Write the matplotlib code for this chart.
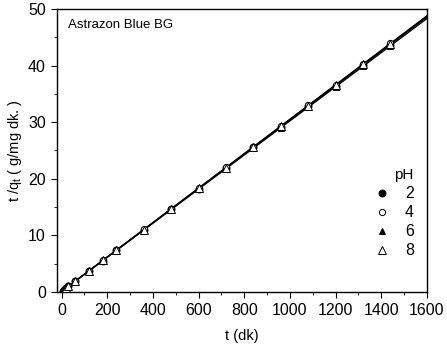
import numpy as np
import matplotlib
matplotlib.use("Agg")
import matplotlib.pyplot as plt
from matplotlib.ticker import MultipleLocator

plt.rcParams['font.family'] = ['Liberation Sans', 'DejaVu Sans']

# contact time (dk)
t = [5, 10, 15, 20, 30, 60, 120, 180, 240, 360, 480, 600, 720, 840, 960, 1080, 1200, 1320, 1440]

# t/qt (g/mg dk.) for each pH
ph_labels = ["2", "4", "6", "8"]
tq_ph2 = [0.20, 0.37, 0.53, 0.69, 1.00, 1.90, 3.72, 5.54, 7.35, 10.98, 14.62, 18.25, 21.89, 25.52, 29.16, 32.80, 36.44, 40.07, 43.70]
tq_ph4 = [0.21, 0.38, 0.54, 0.70, 1.01, 1.92, 3.75, 5.58, 7.40, 11.05, 14.70, 18.35, 22.00, 25.65, 29.30, 32.95, 36.60, 40.25, 43.90]
tq_ph6 = [0.19, 0.36, 0.52, 0.68, 0.99, 1.89, 3.70, 5.50, 7.31, 10.92, 14.54, 18.15, 21.77, 25.38, 29.00, 32.61, 36.22, 39.84, 43.45]
tq_ph8 = [0.20, 0.37, 0.53, 0.69, 1.00, 1.91, 3.73, 5.56, 7.38, 11.02, 14.67, 18.31, 21.96, 25.60, 29.25, 32.89, 36.54, 40.18, 43.83]

fig = plt.figure(figsize=(4.47, 3.56), dpi=100)
ax = fig.add_axes([0.1275, 0.18, 0.8275, 0.795])

series = [tq_ph2, tq_ph4, tq_ph6, tq_ph8]
styles = [dict(marker='o', mfc='black'), dict(marker='o', mfc='white'),
          dict(marker='^', mfc='black'), dict(marker='^', mfc='white')]
sizes = [5, 4.5, 5, 5.5]

tx = np.array(t, dtype=float)
xfit = np.linspace(0, 1600, 50)
handles = []
for y in series:
    p = np.polyfit(tx, y, 1)
    ax.plot(xfit, np.polyval(p, xfit), color='black', lw=0.9, zorder=2)
for y, st, ms, lab in zip(series, styles, sizes, ph_labels):
    h, = ax.plot(t, y, linestyle='none', color='black', mec='black', mew=0.7,
                 ms=ms, label=lab, zorder=3, **st)
    handles.append(h)

ax.set_xlim(-20, 1600)
ax.set_ylim(0, 50)
ax.xaxis.set_major_locator(MultipleLocator(200))
ax.xaxis.set_minor_locator(MultipleLocator(100))
ax.yaxis.set_major_locator(MultipleLocator(10))
ax.yaxis.set_minor_locator(MultipleLocator(5))
ax.tick_params(which='both', direction='out', top=False, right=False, labelsize=11.5)
ax.tick_params(which='major', length=4, pad=4)
ax.tick_params(which='minor', length=2.5)
for s in ax.spines.values():
    s.set_linewidth(1.0)

ax.set_xlabel("t (dk)", fontsize=10.5, labelpad=8)
ax.set_ylabel("t /q$_\\mathregular{t}$ ( g/mg dk. )", fontsize=10.5, labelpad=3)
ax.text(0.03, 0.965, "Astrazon Blue BG", transform=ax.transAxes, fontsize=9.5, va='top', ha='left')

leg = ax.legend(handles=handles, title="pH", loc='lower right', bbox_to_anchor=(0.995, 0.08),
                frameon=False, fontsize=11.5, title_fontsize=11, handletextpad=0.9,
                labelspacing=0.25, handlelength=1.0, alignment='right', borderpad=0.2)

fig.savefig("out.png", dpi=100)
